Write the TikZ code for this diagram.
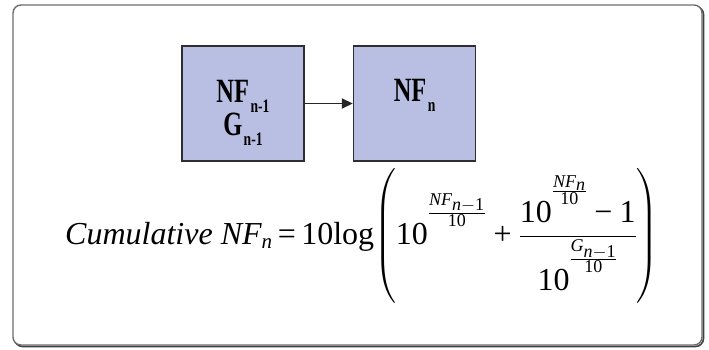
\RequirePackage{fix-cm}
\documentclass[tikz,border=0pt]{standalone}
\usepackage{amsmath}
\usepackage{fontspec}
\setmainfont{Liberation Serif}
\usetikzlibrary{positioning,arrows.meta}
\DeclareMathSizes{32}{32}{21}{18}
\definecolor{blockfill}{RGB}{185,191,227}
\definecolor{blockline}{RGB}{45,45,50}
\definecolor{framegray}{RGB}{110,110,110}
\tikzset{
  frame/.style={draw=framegray, line width=1.4pt, rounded corners=8pt},
  frameshadow/.style={draw=black!75, line width=1.6pt, rounded corners=8pt},
  block/.style={draw=blockline, fill=blockfill, line width=1.6pt,
                minimum width=122pt, minimum height=115pt, inner sep=0pt},
  blocklabel/.style={font=\bfseries\fontsize{34}{37}\selectfont, align=center,
                     inner sep=0pt, xscale=0.72},
  flow/.style={-{Triangle[length=11pt,width=10pt]}, line width=1.8pt, black!85},
  formula/.style={font=\fontsize{32}{38}\selectfont, inner sep=0pt},
}
\newcommand{\blocksub}[1]{\kern2pt\raisebox{-0.3em}{\fontsize{19}{19}\selectfont #1}}
\newcommand{\ten}{\mathrm{10}}
% exponent written as a small raised fraction
\newcommand{\expfrac}[2]{\raisebox{13pt}{$\scriptscriptstyle\frac{#1}{\ten}$}}
\newcommand{\eqsign}{\mkern3mu\text{=}\mkern3mu}
\newcommand{\plussign}{\mathbin{\text{+}}}
\newcommand{\minussign}{\mathbin{\text{−}}}

\begin{document}
\begin{tikzpicture}[x=1pt,y=-1pt,line cap=round]
  \useasboundingbox (0,0) rectangle (709,349);
  % ---- outer frame ----
  \draw[frameshadow] (14.5,6.5) rectangle (703.5,346.5);
  \draw[frame, fill=white] (13,5) rectangle (702,345);
  % ---- stages ----
  \node[block] (prev) at (243,103.5) {};
  \node[block, right=48pt of prev] (curr) {};
  \node[blocklabel] (prevtxt) at ([yshift=-9pt]prev.center)
       {NF\blocksub{n-1}\\[-4pt]G\blocksub{n-1}};
  \node[blocklabel] (currtxt) at ([yshift=8pt]curr.center) {NF\blocksub{n}};
  \draw[flow] (prev) -- (curr);
  % ---- cumulative noise figure ----
  \node[formula, anchor=base west] (eqn) at (65,244)
       {$\displaystyle \mathit{Cumulative\ NF}_{\mathit{n}}
         \eqsign\ten\mathrm{log}\!\left(\rule[-56pt]{0pt}{124pt}
         \ten^{\expfrac{\mathit{NF}_{\mathit{n}-\mathrm{1}}}{}}
         \plussign\frac{\ten^{\expfrac{\mathit{NF}_{\mathit{n}}}{}}\minussign\mathrm{1}}
               {\rule{0pt}{36pt}\ten^{\expfrac{\mathit{G}_{\mathit{n}-\mathrm{1}}}{}}}\right)$};
\end{tikzpicture}
\end{document}
